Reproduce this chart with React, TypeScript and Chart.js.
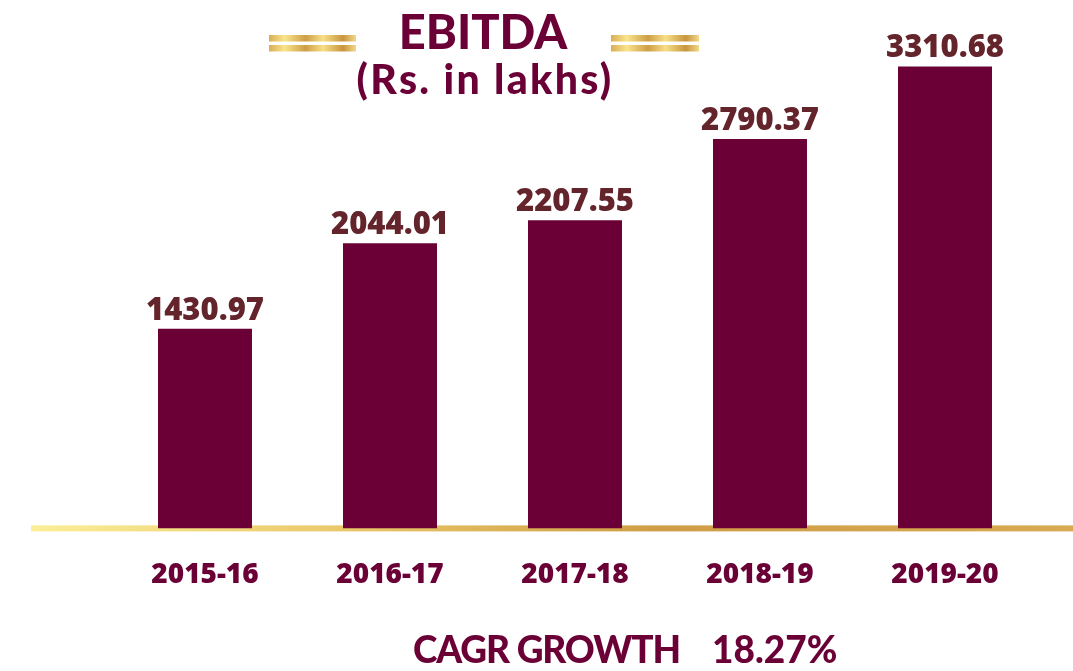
import React, { useEffect, useRef } from "react";
import { Chart, registerables } from "chart.js";

Chart.register(...registerables);

const categories = ["2015-16", "2016-17", "2017-18", "2018-19", "2019-20"];
const ebitdaValues = [1430.97, 2044.01, 2207.55, 2790.37, 3310.68];
const titleLines = ["EBITDA", "(Rs. in lakhs)"];
const cagrLabel = "CAGR GROWTH";
const cagrValue = "18.27%";

const MAROON = "#6A0035";
const LABEL_BROWN = "#64242B";

function goldGradient(ctx: CanvasRenderingContext2D, x0: number, x1: number) {
  const g = ctx.createLinearGradient(x0, 0, x1, 0);
  g.addColorStop(0, "#D9AE55");
  g.addColorStop(0.18, "#F9E48C");
  g.addColorStop(0.42, "#CE9E45");
  g.addColorStop(0.62, "#F7DF88");
  g.addColorStop(0.85, "#C8953C");
  g.addColorStop(1, "#F2D88A");
  return g;
}

const decorPlugin = {
  id: "decor",
  beforeDatasetsDraw(chart: any) {
    const ctx: CanvasRenderingContext2D = chart.ctx;
    const area = chart.chartArea;
    ctx.save();
    const g = ctx.createLinearGradient(31, 0, chart.width, 0);
    g.addColorStop(0, "#FBEE96");
    g.addColorStop(0.3, "#E9C86A");
    g.addColorStop(0.6, "#CF9D45");
    g.addColorStop(1, "#D8AA52");
    ctx.fillStyle = g;
    ctx.fillRect(31, area.bottom - 3, chart.width - 31, 6);
    ctx.restore();
  },
  afterDraw(chart: any) {
    const ctx: CanvasRenderingContext2D = chart.ctx;
    ctx.save();
    const bars: [number, number][] = [
      [269, 356],
      [611, 699],
    ];
    for (const [x0, x1] of bars) {
      ctx.fillStyle = goldGradient(ctx, x0, x1);
      ctx.fillRect(x0, 35, x1 - x0, 6.5);
      ctx.fillRect(x0, 45, x1 - x0, 6.5);
    }
    ctx.fillStyle = MAROON;
    ctx.textAlign = "center";
    ctx.textBaseline = "alphabetic";
    ctx.font = "900 47px Lato";
    (ctx as any).letterSpacing = "0px";
    ctx.fillText(titleLines[0], 483, 49);
    ctx.font = "900 41px Lato";
    (ctx as any).letterSpacing = "2.3px";
    ctx.fillText(titleLines[1], 485, 94);

    ctx.textAlign = "left";
    ctx.font = "900 37px Lato";
    (ctx as any).letterSpacing = "-1.1px";
    ctx.fillText(cagrLabel, 413, 663);
    (ctx as any).letterSpacing = "0px";
    ctx.fillText(cagrValue, 712, 663);

    const meta = chart.getDatasetMeta(0);
    ctx.font = "800 31px 'Open Sans'";
    ctx.fillStyle = LABEL_BROWN;
    ctx.textAlign = "center";
    meta.data.forEach((bar: any, i: number) => {
      ctx.fillText(ebitdaValues[i].toFixed(2), bar.x, bar.y - 9);
    });
    ctx.restore();
  },
};

export default function App() {
  const canvasRef = useRef<HTMLCanvasElement | null>(null);

  useEffect(() => {
    if (!canvasRef.current) return;
    const chart = new Chart(canvasRef.current, {
      type: "bar",
      data: {
        labels: categories,
        datasets: [
          {
            data: ebitdaValues,
            backgroundColor: MAROON,
            borderWidth: 0,
            barPercentage: 0.508,
            categoryPercentage: 1,
          },
        ],
      },
      options: {
        animation: false,
        responsive: true,
        maintainAspectRatio: false,
        layout: {
          padding: { top: 40, left: 112.5, right: 35.5, bottom: 49 },
        },
        plugins: {
          legend: { display: false },
          title: { display: false },
          tooltip: { enabled: false },
        },
        scales: {
          x: {
            grid: { display: false, drawTicks: false },
            border: { display: false },
            ticks: {
              padding: 30,
              color: MAROON,
              font: { family: "'Open Sans'", size: 28, weight: "800" },
            },
          },
          y: {
            display: false,
            min: 0,
            max: 3500,
          },
        },
      },
      plugins: [decorPlugin],
    });
    return () => chart.destroy();
  }, []);

  return (
    <div
      style={{
        position: "fixed",
        left: 0,
        top: 0,
        width: 1073,
        height: 671,
        background: "#ffffff",
      }}
    >
      <canvas ref={canvasRef} />
    </div>
  );
}
